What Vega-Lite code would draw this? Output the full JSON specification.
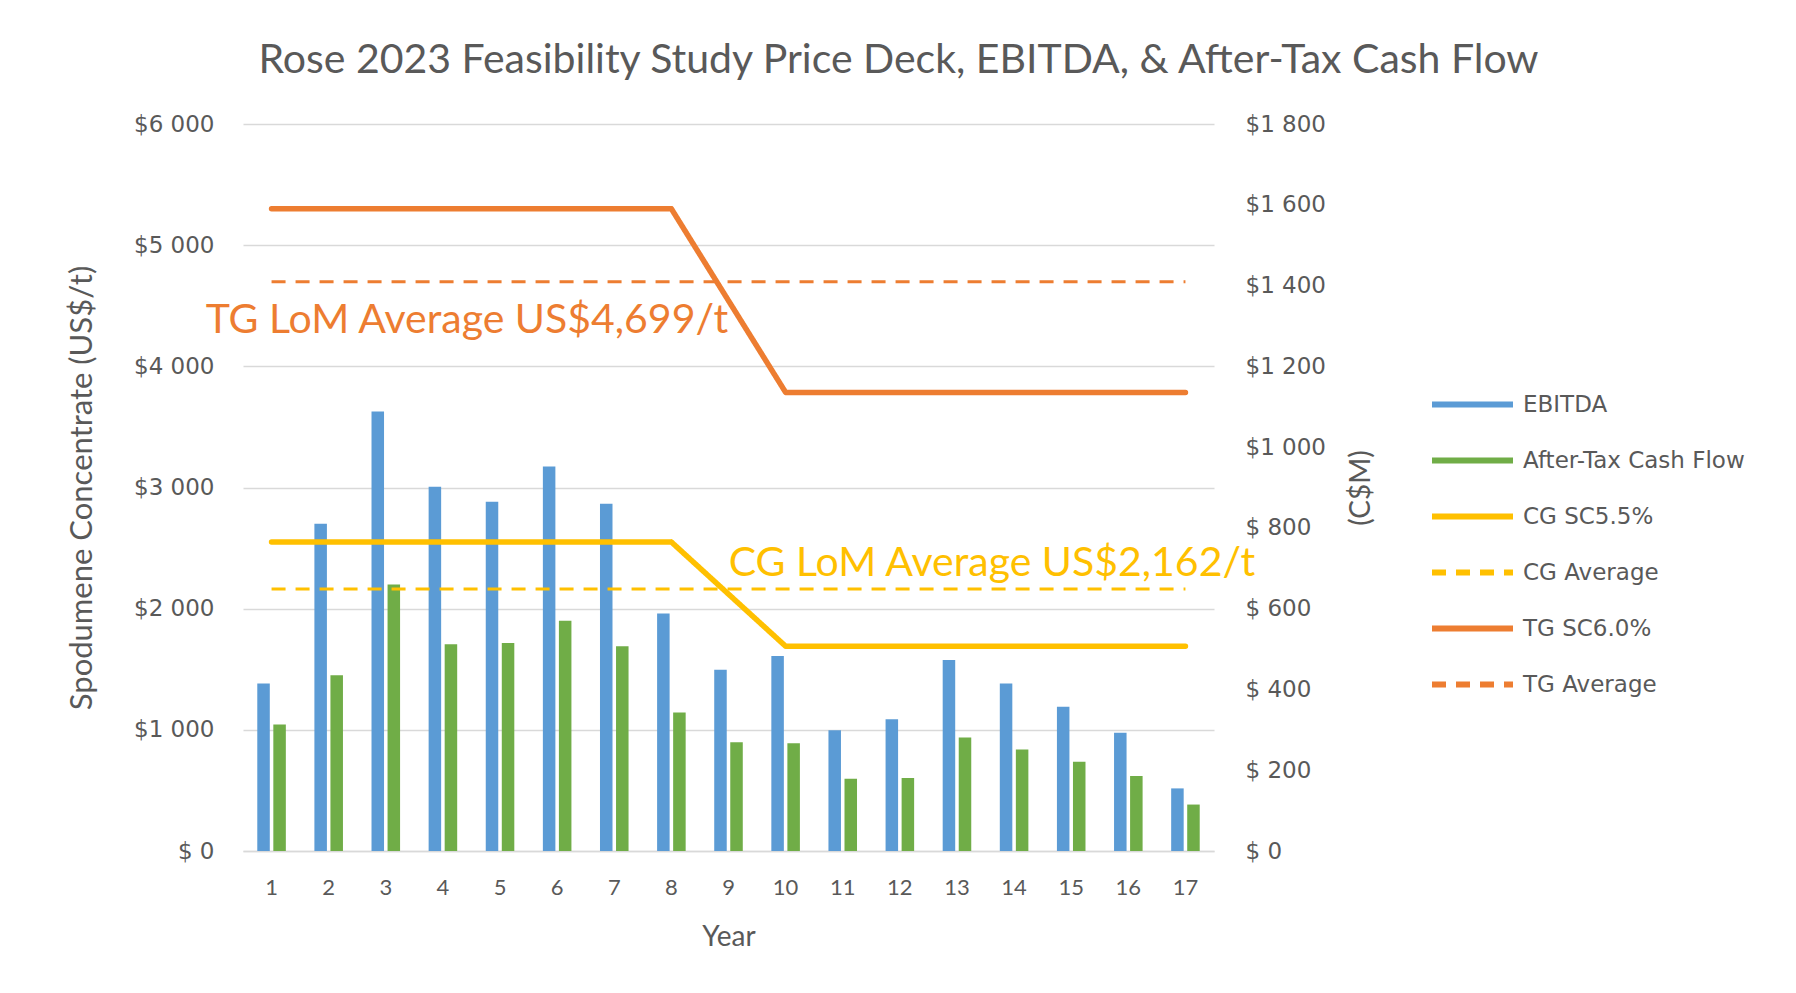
{
  "$schema": "https://vega.github.io/schema/vega-lite/v6.json",
  "autosize": {"type": "none"},
  "padding": {"left": 243, "top": 124, "right": 582, "bottom": 142},
  "width": 971,
  "height": 727,
  "background": "white",
  "title": {
    "text": "Rose 2023 Feasibility Study Price Deck, EBITDA, & After-Tax Cash Flow",
    "font": "Lato", "fontSize": 41, "fontWeight": "normal", "color": "#595959",
    "anchor": "middle", "frame": "group", "dx": 170, "offset": 31
  },
  "config": {
    "view": {"stroke": null},
    "axis": {"titleFontWeight": "normal", "titleColor": "#595959", "labelColor": "#595959", "ticks": false},
    "legend": {
      "orient": "none", "legendX": 1186, "legendY": 237, "padding": 0,
      "symbolType": "stroke", "symbolSize": 400,
      "labelFont": "DejaVu Sans", "labelFontSize": 23, "labelColor": "#595959", "labelLimit": 400,
      "labelOffset": 7, "rowPadding": 0, "title": null
    }
  },
  "datasets": {
    "bars": [
      {"year": 1, "series": "EBITDA", "value": 415}, {"year": 1, "series": "After-Tax Cash Flow", "value": 313},
      {"year": 2, "series": "EBITDA", "value": 810}, {"year": 2, "series": "After-Tax Cash Flow", "value": 435},
      {"year": 3, "series": "EBITDA", "value": 1088}, {"year": 3, "series": "After-Tax Cash Flow", "value": 660},
      {"year": 4, "series": "EBITDA", "value": 902}, {"year": 4, "series": "After-Tax Cash Flow", "value": 512},
      {"year": 5, "series": "EBITDA", "value": 865}, {"year": 5, "series": "After-Tax Cash Flow", "value": 515},
      {"year": 6, "series": "EBITDA", "value": 952}, {"year": 6, "series": "After-Tax Cash Flow", "value": 570},
      {"year": 7, "series": "EBITDA", "value": 860}, {"year": 7, "series": "After-Tax Cash Flow", "value": 507},
      {"year": 8, "series": "EBITDA", "value": 588}, {"year": 8, "series": "After-Tax Cash Flow", "value": 343},
      {"year": 9, "series": "EBITDA", "value": 449}, {"year": 9, "series": "After-Tax Cash Flow", "value": 269},
      {"year": 10, "series": "EBITDA", "value": 483}, {"year": 10, "series": "After-Tax Cash Flow", "value": 267},
      {"year": 11, "series": "EBITDA", "value": 299}, {"year": 11, "series": "After-Tax Cash Flow", "value": 179},
      {"year": 12, "series": "EBITDA", "value": 326}, {"year": 12, "series": "After-Tax Cash Flow", "value": 181},
      {"year": 13, "series": "EBITDA", "value": 473}, {"year": 13, "series": "After-Tax Cash Flow", "value": 281},
      {"year": 14, "series": "EBITDA", "value": 415}, {"year": 14, "series": "After-Tax Cash Flow", "value": 251},
      {"year": 15, "series": "EBITDA", "value": 357}, {"year": 15, "series": "After-Tax Cash Flow", "value": 221},
      {"year": 16, "series": "EBITDA", "value": 293}, {"year": 16, "series": "After-Tax Cash Flow", "value": 186},
      {"year": 17, "series": "EBITDA", "value": 155}, {"year": 17, "series": "After-Tax Cash Flow", "value": 115}
    ],
    "prices": [
      {"year": 1, "series": "CG SC5.5%", "price": 2550}, {"year": 2, "series": "CG SC5.5%", "price": 2550},
      {"year": 3, "series": "CG SC5.5%", "price": 2550}, {"year": 4, "series": "CG SC5.5%", "price": 2550},
      {"year": 5, "series": "CG SC5.5%", "price": 2550}, {"year": 6, "series": "CG SC5.5%", "price": 2550},
      {"year": 7, "series": "CG SC5.5%", "price": 2550}, {"year": 8, "series": "CG SC5.5%", "price": 2550},
      {"year": 9, "series": "CG SC5.5%", "price": 2120}, {"year": 10, "series": "CG SC5.5%", "price": 1690},
      {"year": 11, "series": "CG SC5.5%", "price": 1690}, {"year": 12, "series": "CG SC5.5%", "price": 1690},
      {"year": 13, "series": "CG SC5.5%", "price": 1690}, {"year": 14, "series": "CG SC5.5%", "price": 1690},
      {"year": 15, "series": "CG SC5.5%", "price": 1690}, {"year": 16, "series": "CG SC5.5%", "price": 1690},
      {"year": 17, "series": "CG SC5.5%", "price": 1690},
      {"year": 1, "series": "TG SC6.0%", "price": 5300}, {"year": 2, "series": "TG SC6.0%", "price": 5300},
      {"year": 3, "series": "TG SC6.0%", "price": 5300}, {"year": 4, "series": "TG SC6.0%", "price": 5300},
      {"year": 5, "series": "TG SC6.0%", "price": 5300}, {"year": 6, "series": "TG SC6.0%", "price": 5300},
      {"year": 7, "series": "TG SC6.0%", "price": 5300}, {"year": 8, "series": "TG SC6.0%", "price": 5300},
      {"year": 9, "series": "TG SC6.0%", "price": 4542}, {"year": 10, "series": "TG SC6.0%", "price": 3785},
      {"year": 11, "series": "TG SC6.0%", "price": 3785}, {"year": 12, "series": "TG SC6.0%", "price": 3785},
      {"year": 13, "series": "TG SC6.0%", "price": 3785}, {"year": 14, "series": "TG SC6.0%", "price": 3785},
      {"year": 15, "series": "TG SC6.0%", "price": 3785}, {"year": 16, "series": "TG SC6.0%", "price": 3785},
      {"year": 17, "series": "TG SC6.0%", "price": 3785}
    ],
    "averages": [
      {"year": 1, "series": "CG Average", "price": 2162}, {"year": 17, "series": "CG Average", "price": 2162},
      {"year": 1, "series": "TG Average", "price": 4699}, {"year": 17, "series": "TG Average", "price": 4699}
    ]
  },
  "layer": [
    {
      "data": {"name": "bars"},
      "mark": {"type": "bar"},
      "encoding": {
        "x": {
          "field": "year", "type": "ordinal", "title": "Year",
          "scale": {"type": "band", "paddingInner": 0.5, "paddingOuter": 0.25},
          "axis": {
            "labelAngle": 0, "labelFont": "Lato", "labelFontSize": 22, "labelPadding": 26,
            "domain": true, "domainColor": "#D9D9D9", "domainWidth": 1.5,
            "titleFont": "Lato", "titleFontSize": 28, "titlePadding": 25
          }
        },
        "xOffset": {
          "field": "series", "type": "nominal", "sort": ["EBITDA", "After-Tax Cash Flow"],
          "scale": {"paddingInner": 0.22, "paddingOuter": 0}
        },
        "y": {
          "field": "value", "type": "quantitative",
          "scale": {"domain": [0, 1800], "nice": false},
          "axis": {
            "orient": "right", "title": "(C$M)", "grid": false, "domain": false,
            "values": [0, 200, 400, 600, 800, 1000, 1200, 1400, 1600, 1800],
            "labelExpr": "'$' + (datum.value >= 1000 ? '' : ' ') + replace(format(datum.value, ','), ',', ' ')",
            "labelFont": "DejaVu Sans", "labelFontSize": 23, "labelPadding": 31,
            "titleFont": "Lato", "titleFontSize": 28, "titleAngle": 270, "titlePadding": 50
          }
        },
        "color": {
          "field": "series", "type": "nominal",
          "scale": {
            "domain": ["EBITDA", "After-Tax Cash Flow", "CG SC5.5%", "CG Average", "TG SC6.0%", "TG Average"],
            "range": ["#5B9BD5", "#70AD47", "#FFC000", "#FFC000", "#ED7D31", "#ED7D31"]
          },
          "legend": {
            "title": null,
            "encode": {
              "symbols": {
                "update": {
                  "size": {"value": 6561},
                  "stroke": {"scale": "color", "field": "value"},
                  "strokeWidth": {"value": 6},
                  "strokeDash": {"scale": "strokeDash", "field": "value"},
                  "fill": {"value": "transparent"}
                }
              }
            }
          }
        }
      }
    },
    {
      "data": {"name": "prices"},
      "mark": {"type": "line", "strokeCap": "round", "strokeJoin": "round", "strokeWidth": 5.5},
      "encoding": {
        "x": {"field": "year", "type": "ordinal", "scale": {"type": "band", "paddingInner": 0.5, "paddingOuter": 0.25}},
        "y": {
          "field": "price", "type": "quantitative",
          "scale": {"domain": [0, 6000], "nice": false},
          "axis": {
            "orient": "left", "title": "Spodumene Concentrate (US$/t)",
            "values": [0, 1000, 2000, 3000, 4000, 5000, 6000],
            "labelExpr": "'$' + (datum.value >= 1000 ? '' : ' ') + replace(format(datum.value, ','), ',', ' ')",
            "grid": true, "gridColor": "#D9D9D9", "gridWidth": 1.5, "domain": false,
            "labelFont": "DejaVu Sans", "labelFontSize": 23, "labelPadding": 29,
            "titleFont": "Lato", "titleFontSize": 31, "titlePadding": 35
          }
        },
        "color": {"field": "series", "type": "nominal"},
        "strokeDash": {
          "field": "series", "type": "nominal",
          "scale": {
            "domain": ["EBITDA", "After-Tax Cash Flow", "CG SC5.5%", "CG Average", "TG SC6.0%", "TG Average"],
            "range": [[1, 0], [1, 0], [1, 0], [14, 10], [1, 0], [14, 10]]
          }
        }
      }
    },
    {
      "data": {"name": "averages"},
      "mark": {"type": "line", "strokeCap": "butt", "strokeWidth": 3},
      "encoding": {
        "x": {"field": "year", "type": "ordinal", "scale": {"type": "band", "paddingInner": 0.5, "paddingOuter": 0.25}},
        "y": {"field": "price", "type": "quantitative", "scale": {"domain": [0, 6000], "nice": false}, "axis": null},
        "color": {"field": "series", "type": "nominal"},
        "strokeDash": {"field": "series", "type": "nominal"}
      }
    },
    {
      "data": {"values": [{"year": 4, "price": 4371, "label": "TG LoM Average US$4,699/t"}]},
      "mark": {"type": "text", "font": "Lato", "fontSize": 41, "color": "#ED7D31", "align": "center", "baseline": "middle", "dx": 24},
      "encoding": {
        "x": {"field": "year", "type": "ordinal", "scale": {"type": "band", "paddingInner": 0.5, "paddingOuter": 0.25}},
        "y": {"field": "price", "type": "quantitative", "scale": {"domain": [0, 6000], "nice": false}, "axis": null},
        "text": {"field": "label"}
      }
    },
    {
      "data": {"values": [{"year": 13, "price": 2366, "label": "CG LoM Average US$2,162/t"}]},
      "mark": {"type": "text", "font": "Lato", "fontSize": 41, "color": "#FFC000", "align": "center", "baseline": "middle", "dx": 35},
      "encoding": {
        "x": {"field": "year", "type": "ordinal", "scale": {"type": "band", "paddingInner": 0.5, "paddingOuter": 0.25}},
        "y": {"field": "price", "type": "quantitative", "scale": {"domain": [0, 6000], "nice": false}, "axis": null},
        "text": {"field": "label"}
      }
    }
  ],
  "resolve": {"scale": {"y": "independent"}}
}
